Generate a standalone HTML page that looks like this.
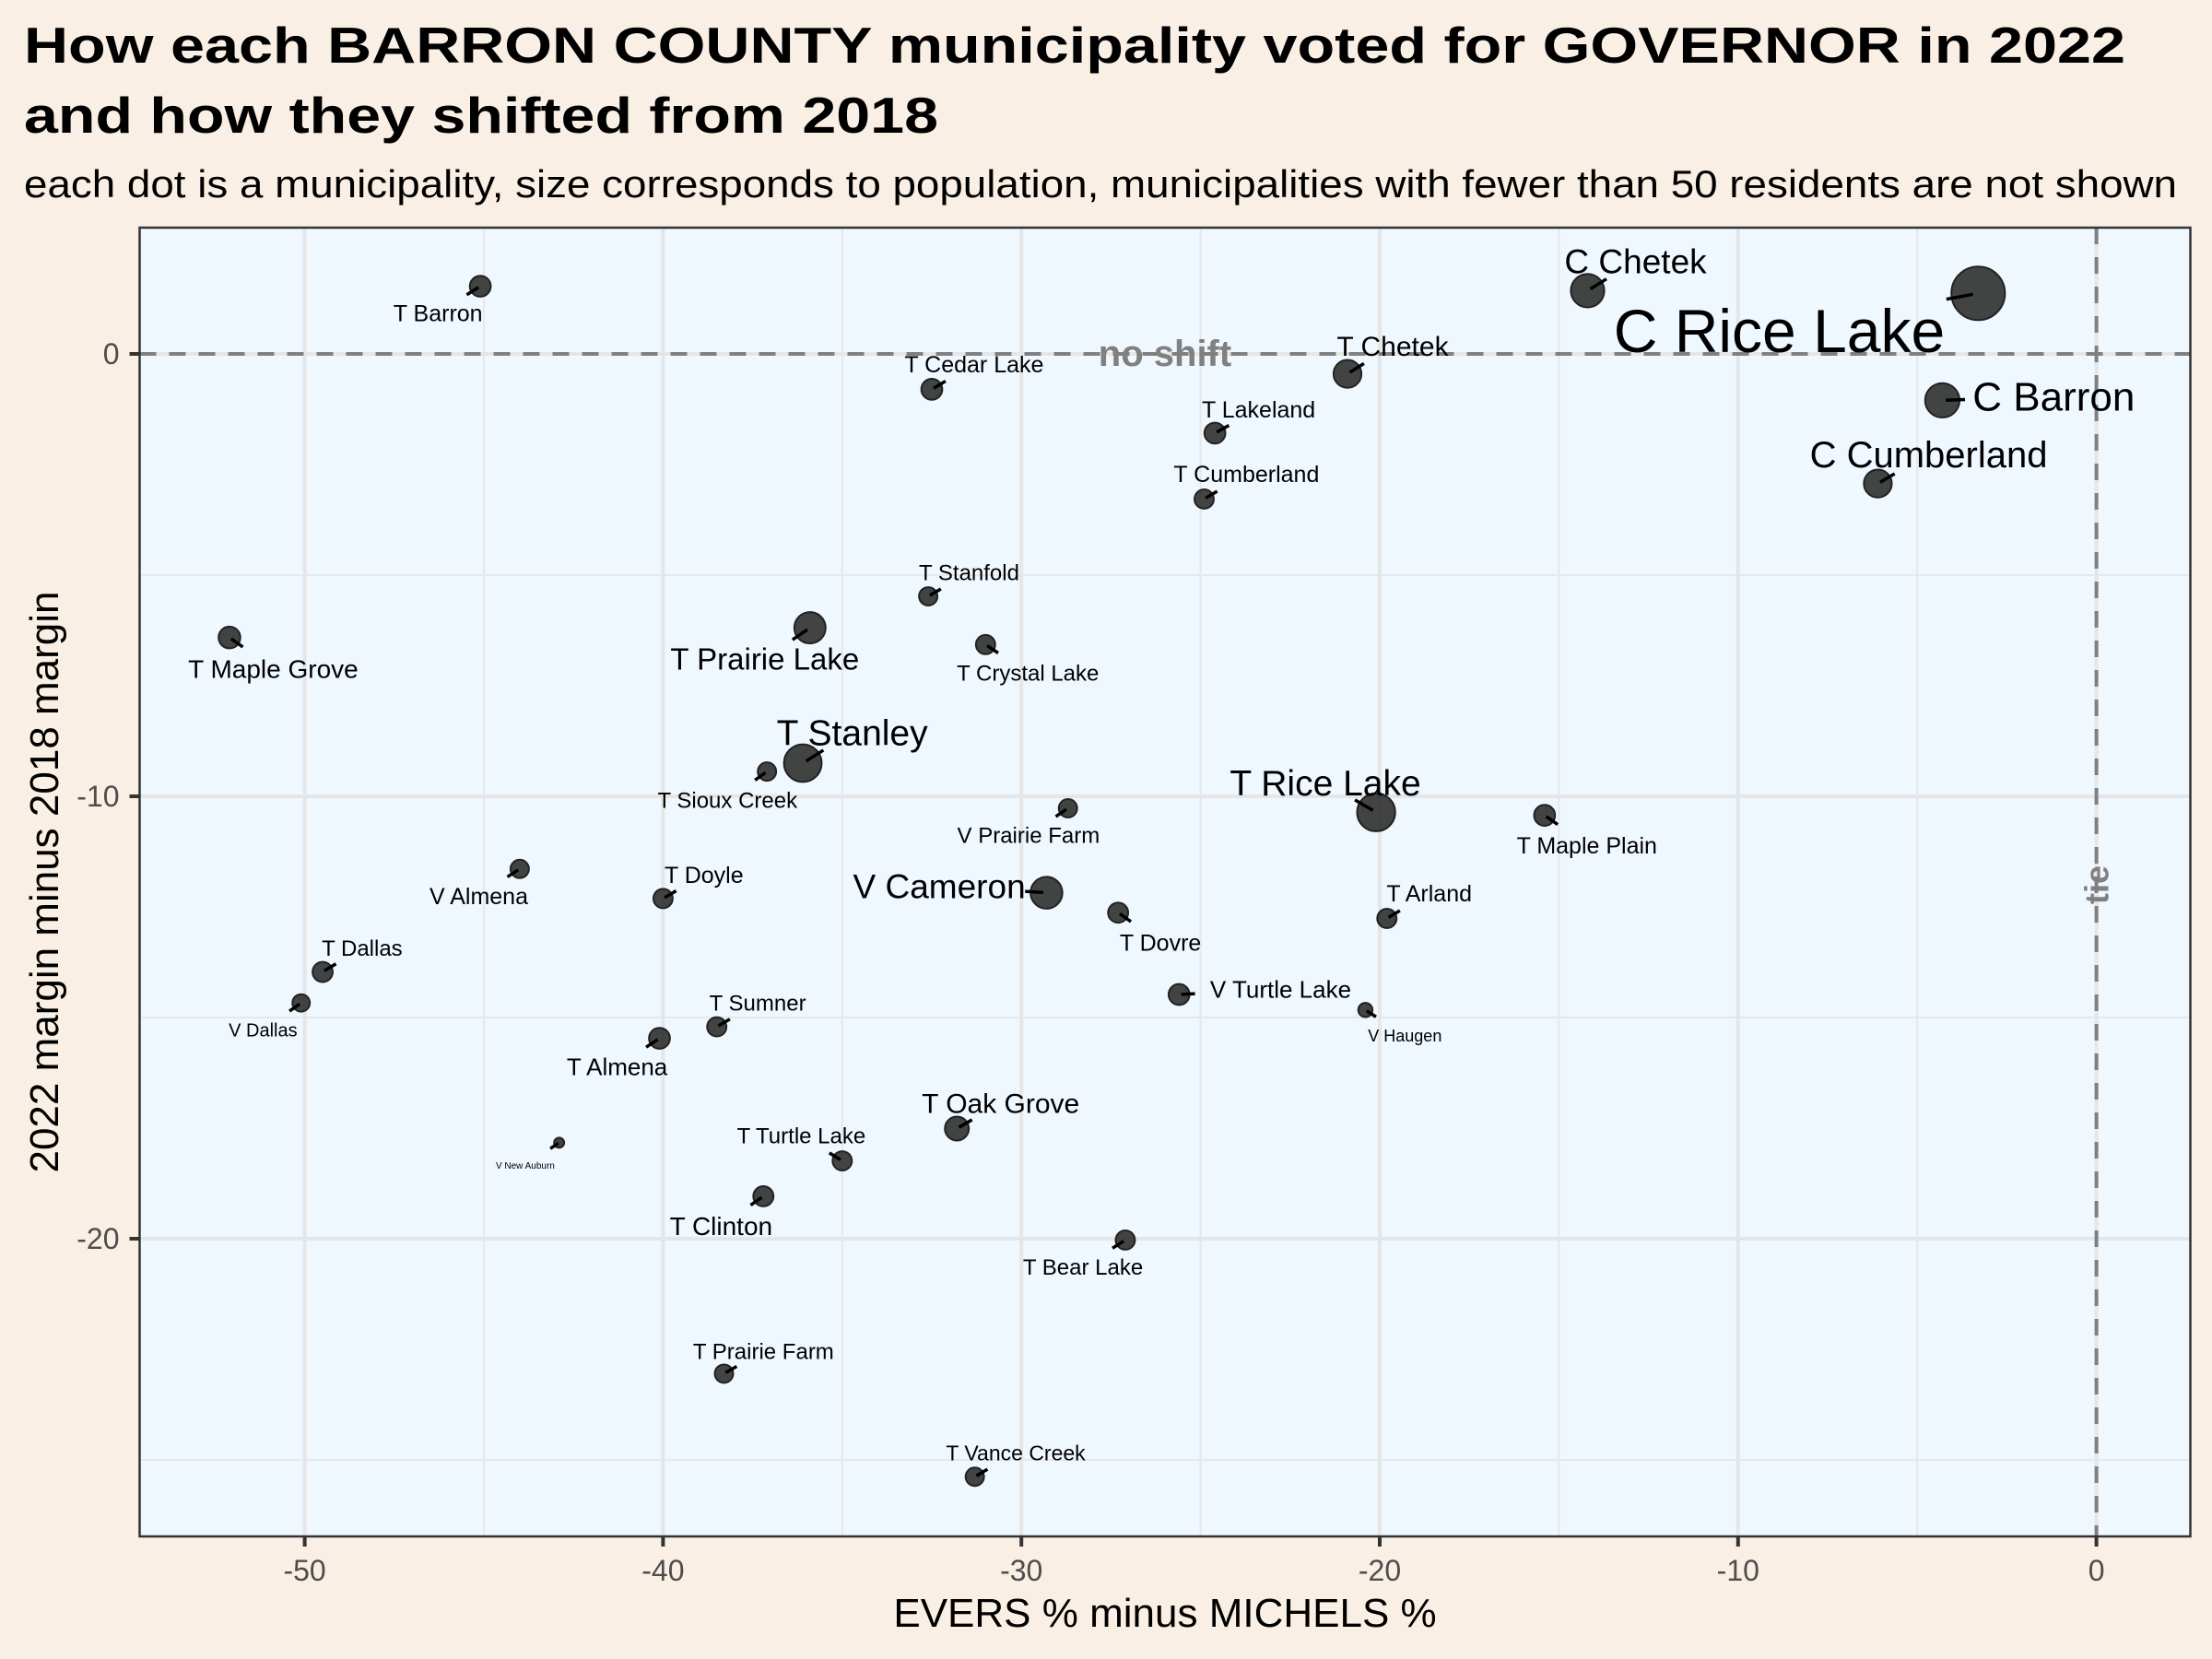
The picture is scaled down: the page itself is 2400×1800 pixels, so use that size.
<!DOCTYPE html>
<html><head><meta charset="utf-8"><style>
html,body{margin:0;padding:0;background:#faefe4;}
svg{display:block;font-family:"Liberation Sans",Arial,sans-serif;}
</style></head><body>
<svg id="chart" width="2400" height="1800" viewBox="0 0 2400 1800" xmlns="http://www.w3.org/2000/svg">
<rect width="2400" height="1800" fill="#faefe4"/>
<text x="26" y="68" font-size="55" font-weight="bold" fill="#000" textLength="2280" lengthAdjust="spacingAndGlyphs">How each BARRON COUNTY municipality voted for GOVERNOR in 2022</text>
<text x="26" y="144" font-size="55" font-weight="bold" fill="#000" textLength="992" lengthAdjust="spacingAndGlyphs">and how they shifted from 2018</text>
<text x="26" y="214" font-size="42" fill="#000" textLength="2336" lengthAdjust="spacingAndGlyphs">each dot is a municipality, size corresponds to population, municipalities with fewer than 50 residents are not shown</text>
<g id="plot"></g>
</svg>
<script>
const names = ["T Barron","C Chetek","C Rice Lake","T Chetek","T Cedar Lake","T Lakeland","C Barron","C Cumberland","T Cumberland","T Stanfold","T Prairie Lake","T Crystal Lake","T Maple Grove","T Stanley","T Sioux Creek","T Rice Lake","V Prairie Farm","T Maple Plain","V Almena","T Doyle","V Cameron","T Dovre","T Arland","T Dallas","V Dallas","V Turtle Lake","V Haugen","T Sumner","T Almena","T Oak Grove","V New Auburn","T Turtle Lake","T Clinton","T Bear Lake","T Prairie Farm","T Vance Creek"];
const evMargin = [-45.1,-14.2,-3.3,-20.9,-32.5,-24.6,-4.3,-6.1,-24.9,-32.6,-35.9,-31.0,-52.1,-36.1,-37.1,-20.1,-28.7,-15.4,-44.0,-40.0,-29.3,-27.3,-19.8,-49.5,-50.1,-25.6,-20.4,-38.5,-40.1,-31.8,-42.9,-35.0,-37.2,-27.1,-38.3,-31.3];
const shift = [1.53,1.43,1.37,-0.45,-0.8,-1.79,-1.05,-2.93,-3.28,-5.48,-6.19,-6.57,-6.41,-9.25,-9.44,-10.36,-10.27,-10.43,-11.64,-12.31,-12.18,-12.63,-12.76,-13.97,-14.67,-14.48,-14.83,-15.21,-15.47,-17.51,-17.83,-18.24,-19.04,-20.03,-23.05,-25.38];
const population = [1300,3300,8500,2300,1300,1300,3500,2300,1100,1000,2900,1100,1400,4200,1000,4300,1000,1300,1000,1100,3000,1200,1100,1200,900,1300,600,1100,1300,1700,300,1100,1200,1100,1000,1000];
const xTicks = [-50,-40,-30,-20,-10,0];
const yTicks = [0,-10,-20];
const xMinor = [-45,-35,-25,-15,-5];
const yMinor = [-5,-15,-25];
// layout (not data): label offsets in display units and label font sizes
const labelLayout = [[-30,19,25],[34,-21,37],[-141,26,66],[32,-20,30],[30,-18,25],[31,-17,25],[79,-3,44],[36,-21,40],[30,-18,25],[29,-17,24],[-32,22,33],[30,20,24],[31,22,28],[35,-22,39],[-28,20,24],[-36,-21,39],[-28,19,24],[30,21,25],[-29,19,25],[29,-17,25],[-76,-5,37],[30,21,25],[30,-18,25],[28,-17,24],[-27,19,20],[72,-4,26],[28,18,18],[29,-17,24],[-30,20,26],[31,-18,30],[-24,16,10],[-29,-18,24],[-30,21,28],[-30,19,24],[28,-16,24],[29,-17,23]];

const P = {l:151.5, r:2376.5, t:247, b:1667};
const xScale = v => 2274.6 + v*38.88;
const yScale = v => 384 - v*48;
const rScale = p => 0.315*Math.sqrt(p);
const NS = "http://www.w3.org/2000/svg";
const g = document.getElementById('plot');
function mk(tag, attrs, parent){const e=document.createElementNS(NS,tag);for(const k in attrs)e.setAttribute(k,attrs[k]);(parent||g).appendChild(e);return e;}

const panel = mk('rect',{x:P.l,y:P.t,width:P.r-P.l,height:P.b-P.t,fill:'#eff7ff'});


xMinor.forEach(v=>{const l=mk('line',{x1:xScale(v),x2:xScale(v),y1:P.t,y2:P.b,stroke:'#e8e8e8','stroke-width':2});

});
yMinor.forEach(v=>{const l=mk('line',{x1:P.l,x2:P.r,y1:yScale(v),y2:yScale(v),stroke:'#e8e8e8','stroke-width':2});

});
xTicks.forEach(v=>{const l=mk('line',{x1:xScale(v),x2:xScale(v),y1:P.t,y2:P.b,stroke:'#e6e6e6','stroke-width':4});


const t=mk('line',{x1:xScale(v),x2:xScale(v),y1:P.b,y2:P.b+11,stroke:'#333','stroke-width':4});


const tx=mk('text',{x:xScale(v),y:P.b+48,'font-size':32,fill:'#4d4d4d','text-anchor':'middle'});tx.textContent=v;

});
yTicks.forEach(v=>{const l=mk('line',{x1:P.l,x2:P.r,y1:yScale(v),y2:yScale(v),stroke:'#e6e6e6','stroke-width':4});


const t=mk('line',{x1:P.l-11,x2:P.l,y1:yScale(v),y2:yScale(v),stroke:'#333','stroke-width':4});


const tx=mk('text',{x:P.l-22,y:yScale(v)+11,'font-size':32,fill:'#4d4d4d','text-anchor':'end'});tx.textContent=v;

});

const h0=mk('line',{x1:P.l,x2:P.r,y1:yScale(0),y2:yScale(0),stroke:'#808080','stroke-width':4,'stroke-dasharray':'18,14'});


const v0=mk('line',{x1:xScale(0),x2:xScale(0),y1:P.t,y2:P.b,stroke:'#808080','stroke-width':4,'stroke-dasharray':'18,14'});


const ns=mk('text',{x:1264,y:397,'font-size':40,'font-weight':'bold',fill:'#808080','text-anchor':'middle'});ns.textContent='no shift';


const tie=mk('text',{x:xScale(0)+13,y:960,'font-size':36,'font-weight':'bold',fill:'#808080','text-anchor':'middle',transform:`rotate(-90 ${xScale(0)+13} 960)`});tie.textContent='tie';



const S=1.5306;
names.forEach((n,i)=>{
  const cx=xScale(evMargin[i]), cy=yScale(shift[i]), r=rScale(population[i]);
  const c=mk('circle',{cx,cy,r,fill:'#333','fill-opacity':0.92,stroke:'#222','stroke-width':2});
  
  
  const [dx,dy,fs]=labelLayout[i];
  const lx=cx+dx*S, ly=cy+dy*S;
  const d=Math.hypot(lx-cx,ly-cy), ux=(lx-cx)/d, uy=(ly-cy)/d;
  const seg=mk('line',{x1:cx+ux*r*0.2,y1:cy+uy*r*0.2,x2:cx+ux*(r+6),y2:cy+uy*(r+6),stroke:'#000','stroke-width':3.5});
  
  
  const t=mk('text',{x:lx,y:ly+fs*0.36,'font-size':fs,fill:'#000','text-anchor':'middle'});t.textContent=n;
  
  
});
const border=mk('rect',{x:P.l,y:P.t,width:P.r-P.l,height:P.b-P.t,fill:'none',stroke:'#333','stroke-width':2.5});


const xt=mk('text',{x:1264,y:1765,'font-size':44,fill:'#000','text-anchor':'middle'});xt.textContent='EVERS % minus MICHELS %';


const yt=mk('text',{x:63,y:957,'font-size':44,fill:'#000','text-anchor':'middle',transform:'rotate(-90 63 957)'});yt.textContent='2022 margin minus 2018 margin';


</script>
</body></html>
